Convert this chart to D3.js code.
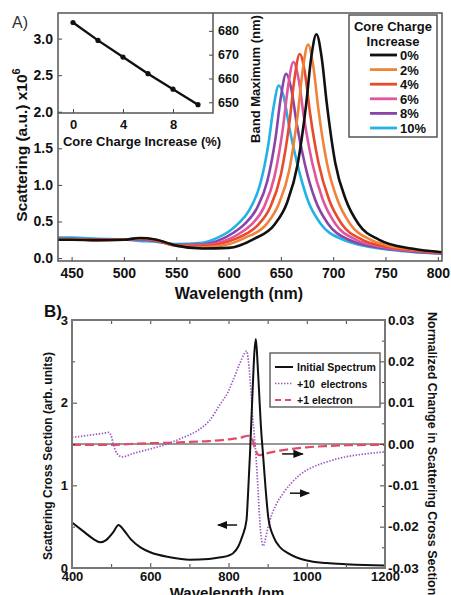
<!DOCTYPE html>
<html lang="en">
<head>
<meta charset="UTF-8"/>
<title>Scattering spectra vs core charge</title>
<script src="https://d3js.org/d3.v7.min.js"></script>
<style>
    body { margin: 0; background: #fff; }
    text { font-family: "Liberation Sans", Arial, sans-serif; font-weight: bold; fill: #111; }
</style>
</head>
<body>
<div id="chart"></div>
<script>
    // ---------- panel A data : [wavelength nm, scattering a.u. x10^6] ----------
    var charge0 = [[437,0.25],[450,0.25],[475,0.245],[500,0.25],[515,0.275],[530,0.255],[550,0.17],[575,0.13],[600,0.14],[624,0.26],[644,0.46],[656,0.76],[666,1.28],[674,2.08],[679,2.74],[684,3.06],[689,2.74],[694,2.1],[702,1.3],[712,0.80],[724,0.47],[744,0.25],[775,0.13],[804,0.08]];
    var charge2 = [[437,0.255],[450,0.255],[475,0.245],[500,0.25],[515,0.27],[530,0.25],[550,0.17],[575,0.145],[600,0.19],[616,0.28],[636,0.46],[648,0.74],[658,1.2],[666,1.95],[671,2.58],[676,2.92],[681,2.62],[686,2.02],[694,1.3],[704,0.80],[716,0.47],[736,0.25],[750,0.18],[775,0.12],[804,0.076]];
    var charge4 = [[437,0.255],[450,0.255],[475,0.245],[500,0.25],[515,0.265],[530,0.245],[550,0.17],[575,0.165],[608,0.27],[618,0.34],[628,0.45],[640,0.70],[650,1.14],[658,1.83],[663,2.45],[668,2.79],[673,2.53],[678,1.97],[686,1.3],[696,0.80],[708,0.47],[728,0.25],[750,0.16],[775,0.11],[804,0.072]];
    var charge6 = [[437,0.26],[450,0.26],[475,0.25],[500,0.25],[515,0.26],[530,0.24],[550,0.175],[575,0.18],[602,0.27],[612,0.35],[622,0.46],[634,0.70],[644,1.12],[652,1.78],[657,2.36],[662,2.68],[667,2.44],[672,1.93],[680,1.3],[690,0.80],[702,0.47],[722,0.25],[750,0.145],[775,0.10],[804,0.068]];
    var charge8 = [[437,0.265],[450,0.265],[475,0.25],[500,0.25],[515,0.25],[530,0.235],[550,0.18],[575,0.19],[595,0.27],[605,0.35],[615,0.46],[627,0.68],[637,1.05],[645,1.65],[650,2.2],[655,2.52],[660,2.31],[665,1.85],[673,1.28],[683,0.79],[695,0.47],[715,0.25],[750,0.13],[775,0.09],[804,0.064]];
    var charge10 = [[437,0.28],[450,0.28],[475,0.265],[500,0.255],[515,0.235],[530,0.225],[550,0.19],[575,0.21],[588,0.27],[600,0.36],[610,0.48],[620,0.66],[630,1.0],[638,1.55],[643,2.06],[648,2.36],[653,2.19],[658,1.79],[666,1.27],[676,0.78],[688,0.47],[708,0.26],[750,0.12],[775,0.085],[804,0.06]];
    var chargeLabels = ["0%", "2%", "4%", "6%", "8%", "10%"];
    var chargeSeries = [charge0, charge2, charge4, charge6, charge8, charge10];

    var ticksAX = [450, 500, 550, 600, 650, 700, 750, 800];
    var ticksAY = [0, 0.5, 1.0, 1.5, 2.0, 2.5, 3.0];

    // inset : band maximum vs core charge increase
    var insetCharge = [0, 2, 4, 6, 8, 10];
    var insetBandMax = [683.5, 676, 669, 662, 655.5, 649];
    var ticksIX = [0, 4, 8];
    var ticksIY = [650, 660, 670, 680];

    // ---------- panel B data ----------
    var initialSpectrum = [[400,0.55],[430,0.44],[455,0.35],[472,0.31],[488,0.34],[505,0.43],[519,0.52],[532,0.46],[550,0.35],[575,0.25],[600,0.19],[650,0.13],[700,0.10],[750,0.11],[780,0.13],[800,0.15],[812,0.18],[825,0.26],[835,0.38],[846,0.58],[850,0.9],[855,1.39],[862,2.19],[866,2.6],[870,2.77],[874,2.5],[878,2.15],[883,1.7],[888,1.39],[895,0.95],[902,0.6],[915,0.38],[930,0.26],[952,0.18],[1000,0.09],[1050,0.06],[1100,0.045],[1150,0.035],[1200,0.03]];
    var plus10 = [[400,0.0016],[450,0.0022],[480,0.0026],[494,0.0028],[500,0.002],[507,-0.0005],[515,-0.0023],[528,-0.0031],[560,-0.0022],[600,-0.0012],[640,-0.0001],[680,0.0014],[720,0.0032],[750,0.0055],[780,0.0098],[800,0.0128],[812,0.0155],[829,0.0195],[840,0.0218],[846,0.0225],[851,0.020],[856,0.0145],[861,0.0075],[866,0.002],[871,-0.004],[876,-0.012],[881,-0.020],[886,-0.024],[889,-0.0247],[893,-0.0235],[899,-0.021],[906,-0.0184],[920,-0.015],[940,-0.0119],[960,-0.0095],[983,-0.0074],[1020,-0.0054],[1059,-0.0041],[1100,-0.0031],[1150,-0.0024],[1200,-0.0019]];
    var plus1 = [[400,-0.0002],[500,-0.0002],[550,0.0],[600,0.0002],[650,0.0003],[700,0.0005],[750,0.0007],[800,0.0011],[830,0.0015],[850,0.002],[858,0.0018],[863,0.0005],[868,-0.0012],[874,-0.0024],[880,-0.0027],[890,-0.0025],[905,-0.0021],[930,-0.0016],[960,-0.0012],[1000,-0.0008],[1050,-0.0005],[1100,-0.0003],[1200,-0.0002]];
    var legendB = ["Initial Spectrum", "+10  electrons", "+1 electron"];

    var ticksBX = [400, 600, 800, 1000, 1200];
    var minorBX = [500, 700, 900, 1100];
    var ticksBL = [0, 1, 2, 3];
    var minorBL = [0.5, 1.5, 2.5];
    var ticksBR = [-0.03, -0.02, -0.01, 0, 0.01, 0.02, 0.03];
    var minorBR = [-0.025, -0.015, -0.005, 0.005, 0.015, 0.025];

    var chargeColors = ["#111111", "#f0833a", "#e84a2c", "#e0569e", "#8a44a6", "#22b2e6"];

    var width = 451, height = 595;
    var svg = d3.select("#chart").append("svg").attr("width", width).attr("height", height);

    function cleanAxis(g, size) {
        g.select(".domain").remove();
        g.attr("font-family", null).attr("font-size", size);
        g.selectAll("line").attr("stroke", "#444");
    }

    // ================= panel A =================
    var xA = d3.scaleLinear().domain([437, 804]).range([58, 442]);
    var yA = d3.scaleLinear().domain([-0.04, 3.35]).range([261, 13]);

    var lineA = d3.line().x(function (d) { return xA(d[0]); }).y(function (d) { return yA(d[1]); }).curve(d3.curveMonotoneX);

    // draw 10% first so that 0% sits on top
    svg.append("g").selectAll("path")
        .data(d3.range(chargeSeries.length).reverse())
        .enter().append("path")
        .attr("d", function (i) { return lineA(chargeSeries[i]); })
        .attr("fill", "none")
        .attr("stroke", function (i) { return chargeColors[i]; })
        .attr("stroke-width", 2.6);

    svg.append("g").attr("transform", "translate(58,0)")
        .call(d3.axisLeft(yA).tickValues(ticksAY).tickFormat(d3.format(".1f")).tickSize(-4).tickPadding(5))
        .call(cleanAxis, 14);
    svg.append("g").attr("transform", "translate(0,261)")
        .call(d3.axisBottom(xA).tickValues(ticksAX).tickFormat(d3.format("d")).tickSize(-4).tickPadding(7))
        .call(cleanAxis, 14);

    svg.append("rect").attr("x", 58).attr("y", 13).attr("width", 384).attr("height", 248)
        .attr("fill", "none").attr("stroke", "#555").attr("stroke-width", 1.5);

    // inset
    var xI = d3.scaleLinear().domain([-1.2, 11.2]).range([58, 213]);
    var yI = d3.scaleLinear().domain([645.5, 687.5]).range([113, 13]);

    svg.append("path")
        .attr("d", "M58,113H213V13")
        .attr("fill", "none").attr("stroke", "#555").attr("stroke-width", 1.5);
    svg.append("g").attr("transform", "translate(0,113)")
        .call(d3.axisBottom(xI).tickValues(ticksIX).tickFormat(d3.format("d")).tickSize(-4).tickPadding(7))
        .call(cleanAxis, 13);
    svg.append("g").attr("transform", "translate(213,0)")
        .call(d3.axisRight(yI).tickValues(ticksIY).tickFormat(d3.format("d")).tickSize(-4).tickPadding(5))
        .call(cleanAxis, 12.5);

    var insetPts = insetCharge.map(function (c, i) { return [c, insetBandMax[i]]; });
    svg.append("path")
        .attr("d", d3.line().x(function (d) { return xI(d[0]); }).y(function (d) { return yI(d[1]); })(insetPts))
        .attr("fill", "none").attr("stroke", "#111").attr("stroke-width", 2.4);
    svg.append("g").selectAll("circle").data(insetPts).enter().append("circle")
        .attr("cx", function (d) { return xI(d[0]); })
        .attr("cy", function (d) { return yI(d[1]); })
        .attr("r", 2.6).attr("fill", "#111");

    svg.append("text").attr("x", 142).attr("y", 146).attr("text-anchor", "middle").attr("font-size", 13)
        .text("Core Charge Increase (%)");
    svg.append("text").attr("transform", "translate(260,79) rotate(-90)").attr("text-anchor", "middle").attr("font-size", 13)
        .text("Band Maximum (nm)");

    // legend A
    svg.append("rect").attr("x", 349).attr("y", 15).attr("width", 88).attr("height", 122)
        .attr("fill", "#fff").attr("stroke", "#555").attr("stroke-width", 1.5);
    svg.append("text").attr("x", 393).attr("y", 31).attr("text-anchor", "middle").attr("font-size", 13).text("Core Charge");
    svg.append("text").attr("x", 393).attr("y", 46).attr("text-anchor", "middle").attr("font-size", 13).text("Increase");
    var legA = svg.append("g").selectAll("g").data(chargeLabels).enter().append("g")
        .attr("transform", function (d, i) { return "translate(0," + (55 + i * 14.6) + ")"; });
    legA.append("line").attr("x1", 370).attr("x2", 397).attr("y1", 0).attr("y2", 0)
        .attr("stroke", function (d, i) { return chargeColors[i]; }).attr("stroke-width", 2.8);
    legA.append("text").attr("x", 400).attr("y", 5).attr("font-size", 13).text(function (d) { return d; });

    svg.append("text").attr("x", 12).attr("y", 28).attr("font-size", 16)
        .style("font-weight", "normal").style("fill", "#333").text("A)");
    var yLabA = svg.append("text").attr("transform", "translate(27,145) rotate(-90)")
        .attr("text-anchor", "middle").attr("font-size", 15.5);
    yLabA.append("tspan").text("Scattering (a.u.) x10");
    yLabA.append("tspan").attr("dy", -7).attr("font-size", 11).text("6");
    svg.append("text").attr("x", 239).attr("y", 299).attr("text-anchor", "middle").attr("font-size", 16)
        .text("Wavelength (nm)");

    // ================= panel B =================
    var xB = d3.scaleLinear().domain([400, 1200]).range([72, 385]);
    var yL = d3.scaleLinear().domain([0, 3]).range([568, 320]);
    var yR = d3.scaleLinear().domain([-0.03, 0.03]).range([568, 320]);

    // zero line of the right axis
    svg.append("line").attr("x1", 72).attr("x2", 385).attr("y1", yR(0)).attr("y2", yR(0))
        .attr("stroke", "#333").attr("stroke-width", 1);

    var lineL = d3.line().x(function (d) { return xB(d[0]); }).y(function (d) { return yL(d[1]); }).curve(d3.curveMonotoneX);
    var lineR = d3.line().x(function (d) { return xB(d[0]); }).y(function (d) { return yR(d[1]); }).curve(d3.curveMonotoneX);

    svg.append("path").attr("d", lineR(plus1)).attr("fill", "none")
        .attr("stroke", "#e24a6a").attr("stroke-width", 2.2).attr("stroke-dasharray", "9,4");
    svg.append("path").attr("d", lineR(plus10)).attr("fill", "none")
        .attr("stroke", "#9a55c0").attr("stroke-width", 1.7).attr("stroke-dasharray", "1.4,1.6");
    svg.append("path").attr("d", lineL(initialSpectrum)).attr("fill", "none")
        .attr("stroke", "#111").attr("stroke-width", 2);

    // axes B, ticks pointing in on every side
    svg.append("g").attr("transform", "translate(72,0)")
        .call(d3.axisLeft(yL).tickValues(ticksBL).tickFormat(d3.format("d")).tickSize(-5).tickPadding(4))
        .call(cleanAxis, 13);
    svg.append("g").attr("transform", "translate(72,0)")
        .call(d3.axisLeft(yL).tickValues(minorBL).tickFormat("").tickSize(-3))
        .call(cleanAxis, 13);
    svg.append("g").attr("transform", "translate(385,0)")
        .call(d3.axisRight(yR).tickValues(ticksBR).tickFormat(function (d) { return d3.format(".2f")(d).replace("−", "-"); }).tickSize(-5).tickPadding(3))
        .call(cleanAxis, 13.5);
    svg.append("g").attr("transform", "translate(385,0)")
        .call(d3.axisRight(yR).tickValues(minorBR).tickFormat("").tickSize(-3))
        .call(cleanAxis, 13);
    svg.append("g").attr("transform", "translate(0,568)")
        .call(d3.axisBottom(xB).tickValues(ticksBX).tickFormat(d3.format("d")).tickSize(-5).tickPadding(4))
        .call(cleanAxis, 13);
    svg.append("g").attr("transform", "translate(0,568)")
        .call(d3.axisBottom(xB).tickValues(minorBX).tickFormat("").tickSize(-4))
        .call(cleanAxis, 13);
    svg.append("g").attr("transform", "translate(0,320)")
        .call(d3.axisTop(xB).tickValues(ticksBX.concat(minorBX)).tickFormat("").tickSize(-4))
        .call(cleanAxis, 13);

    svg.append("rect").attr("x", 72).attr("y", 320).attr("width", 313).attr("height", 248)
        .attr("fill", "none").attr("stroke", "#777").attr("stroke-width", 2);

    // legend B
    svg.append("rect").attr("x", 270).attr("y", 353).attr("width", 110).attr("height", 54)
        .attr("fill", "#fff").attr("stroke", "#666").attr("stroke-width", 1.5);
    var legBStyle = [
        {stroke: "#111", width: 2, dash: null},
        {stroke: "#9a55c0", width: 1.7, dash: "1.4,1.6"},
        {stroke: "#e24a6a", width: 2.2, dash: "6,4"}
    ];
    var legB = svg.append("g").selectAll("g").data(legendB).enter().append("g")
        .attr("transform", function (d, i) { return "translate(0," + (367 + i * 16.5) + ")"; });
    legB.append("line").attr("x1", 275).attr("x2", 293).attr("y1", 0).attr("y2", 0)
        .attr("stroke", function (d, i) { return legBStyle[i].stroke; })
        .attr("stroke-width", function (d, i) { return legBStyle[i].width; })
        .attr("stroke-dasharray", function (d, i) { return legBStyle[i].dash; });
    legB.append("text").attr("x", 297).attr("y", 4).attr("font-size", 10.5).style("white-space", "pre")
        .text(function (d) { return d; });

    // arrows telling which axis each curve uses
    svg.append("defs").append("marker").attr("id", "head")
        .attr("viewBox", "0 0 10 10").attr("refX", 9).attr("refY", 5)
        .attr("markerWidth", 7).attr("markerHeight", 7).attr("orient", "auto")
        .append("path").attr("d", "M0,1L10,5L0,9Z").attr("fill", "#111");
    var arrowsB = [
        {x1: xB(822), x2: xB(773), y: yL(0.52)},
        {x1: xB(937), x2: xB(990), y: yR(-0.0024)},
        {x1: xB(957), x2: xB(1006), y: yR(-0.0119)}
    ];
    svg.append("g").selectAll("line").data(arrowsB).enter().append("line")
        .attr("x1", function (d) { return d.x1; }).attr("x2", function (d) { return d.x2; })
        .attr("y1", function (d) { return d.y; }).attr("y2", function (d) { return d.y; })
        .attr("stroke", "#111").attr("stroke-width", 1.5).attr("marker-end", "url(#head)");

    svg.append("text").attr("x", 44).attr("y", 317).attr("font-size", 17).text("B)");
    svg.append("text").attr("transform", "translate(52,456) rotate(-90)").attr("text-anchor", "middle")
        .attr("font-size", 12).text("Scattering Cross Section (arb. units)");
    svg.append("text").attr("transform", "translate(428,312) rotate(90)").attr("font-size", 12.5)
        .text("Normalized Change in Scattering Cross Section");
    svg.append("text").attr("x", 227).attr("y", 598).attr("text-anchor", "middle").attr("font-size", 15)
        .text("Wavelength /nm");
</script>
</body>
</html>
